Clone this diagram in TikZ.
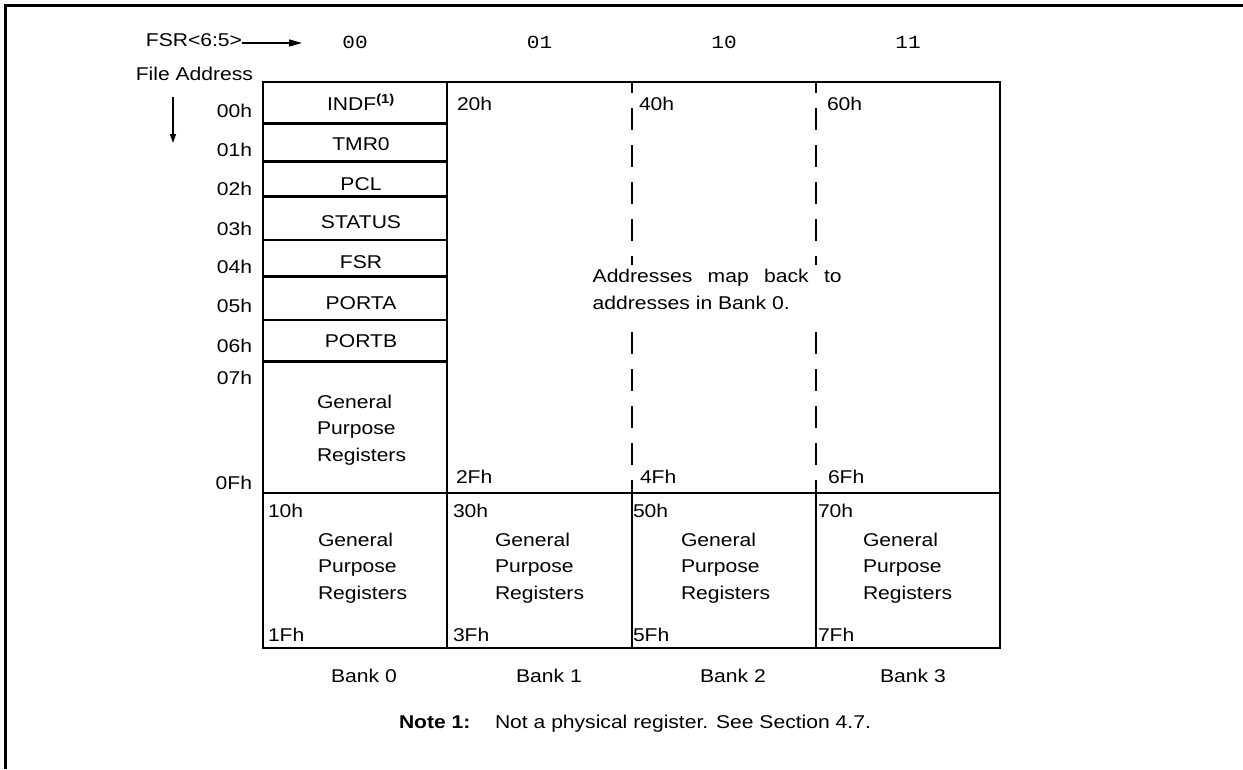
\documentclass[tikz,border=0pt]{standalone}
\usepackage{fontspec}
\setmainfont{Liberation Sans}[FakeStretch=1.14]
\setmonofont{Liberation Mono}[FakeStretch=1.14]
\usetikzlibrary{arrows.meta}
\begin{document}
\begin{tikzpicture}[x=1pt,y=-1pt,
  every node/.style={inner sep=0pt,outer sep=0pt,font=\fontsize{18.5}{26.5}\selectfont},
  ctext/.style={anchor=base},
  addr/.style={anchor=base east},
  hexl/.style={anchor=base west},
  gpr/.style={anchor=north west,align=left},
  bits/.style={anchor=base,font=\fontsize{18.5}{26.5}\selectfont\ttfamily},
  boxline/.style={line width=2.6pt},
  frameline/.style={line width=3pt},
  dashline/.style={line width=1.3pt,dash pattern=on 22pt off 15pt},
  arr/.style={line width=1.3pt}
]
\useasboundingbox (0,0) rectangle (1243,769);
% outer frame
\draw[frameline] (5,769) -- (5,5) -- (1243,5);

% header
\node[addr] (fsr) at (242,46.5) {FSR<6:5>};
\coordinate (fsrtip) at (302,43);
\draw[arr,-{Triangle[length=13pt,width=7pt]}] (fsr.east |- fsrtip) -- (fsrtip);
\node[bits] (b00) at (355,48.5) {00};
\node[bits] (b01) at (539.5,48.5) {01};
\node[bits] (b10) at (724,48.5) {10};
\node[bits] (b11) at (908,48.5) {11};
\node[addr] (fileaddr) at (253,80) {File Address};
\coordinate (da1) at (173,97);
\coordinate (da2) at (173,143);
\draw[arr,-{Triangle[length=9pt,width=6pt]}] (da1) -- (da2);

% address labels
\node[addr] (a00) at (252,117) {00h};
\node[addr] (a01) at (252,156.7) {01h};
\node[addr] (a02) at (252,195) {02h};
\node[addr] (a03) at (252,235) {03h};
\node[addr] (a04) at (252,273.3) {04h};
\node[addr] (a05) at (252,312.7) {05h};
\node[addr] (a06) at (252,352.7) {06h};
\node[addr] (a07) at (252,384) {07h};
\node[addr] (a0F) at (252,489.3) {0Fh};

% dashed separators (upper region of banks 1-3)
\foreach \xx in {632,816}{
  \draw[dashline,dash phase=11pt] (\xx,82) -- (\xx,265);
  \draw[dashline] (\xx,332) -- (\xx,493);
}

% box lines
\draw[boxline] (263,82) rectangle (1000,648);
\draw[boxline] (447,82) -- (447,648);
\draw[boxline] (263,493) -- (1000,493);
\draw[boxline] (632,493) -- (632,648);
\draw[boxline] (816,493) -- (816,648);
\foreach \yy in {123.3,161.7,196.7,240,276.7,320,361.7}{
  \draw[boxline] (263,\yy) -- (447,\yy);
}

% bank 0 special registers
\node[ctext] (indf) at (361,110) {INDF\textsuperscript{\textbf{(1)}}};
\node[ctext] (tmr0) at (361,150) {TMR0};
\node[ctext] (pcl) at (361,190) {PCL};
\node[ctext] (status) at (361,228.3) {STATUS};
\node[ctext] (fsrreg) at (361,268.3) {FSR};
\node[ctext] (porta) at (361,309.3) {PORTA};
\node[ctext] (portb) at (361,347.3) {PORTB};
\node[gpr] (gpr0u) at (317,395) {General\\Purpose\\Registers};

% upper hex labels
\node[hexl] (h20) at (457,110) {20h};
\node[hexl] (h40) at (639,110) {40h};
\node[hexl] (h60) at (827,110) {60h};
\node[hexl] (h2F) at (456,483.3) {2Fh};
\node[hexl] (h4F) at (640,483.3) {4Fh};
\node[hexl] (h6F) at (828,483.3) {6Fh};

% mapping text
\node[anchor=north west,align=left] (mapnote) at (592.7,269.4)
  {\hbox to 249pt{Addresses\hfill map\hfill back\hfill to}\\addresses in Bank 0.};

% lower row
\node[hexl] (h10) at (268,517.3) {10h};
\node[hexl] (h30) at (453,517.3) {30h};
\node[hexl] (h50) at (633,517.3) {50h};
\node[hexl] (h70) at (818,517.3) {70h};
\node[hexl] (h1F) at (268,641.7) {1Fh};
\node[hexl] (h3F) at (453,641.7) {3Fh};
\node[hexl] (h5F) at (633,641.7) {5Fh};
\node[hexl] (h7F) at (818,641.7) {7Fh};
\node[gpr] (gpr0) at (318,532.6) {General\\Purpose\\Registers};
\node[gpr] (gpr1) at (495,532.6) {General\\Purpose\\Registers};
\node[gpr] (gpr2) at (681,532.6) {General\\Purpose\\Registers};
\node[gpr] (gpr3) at (863,532.6) {General\\Purpose\\Registers};

% bank labels
\node[ctext] (bank0) at (364,682.7) {Bank 0};
\node[ctext] (bank1) at (549,682.7) {Bank 1};
\node[ctext] (bank2) at (733,682.7) {Bank 2};
\node[ctext] (bank3) at (913,682.7) {Bank 3};

% note
\node[anchor=base west] (note) at (399,728.3)
  {\makebox[96pt][l]{\textbf{Note 1:}}Not a physical register. See Section 4.7.};
\end{tikzpicture}
\end{document}
